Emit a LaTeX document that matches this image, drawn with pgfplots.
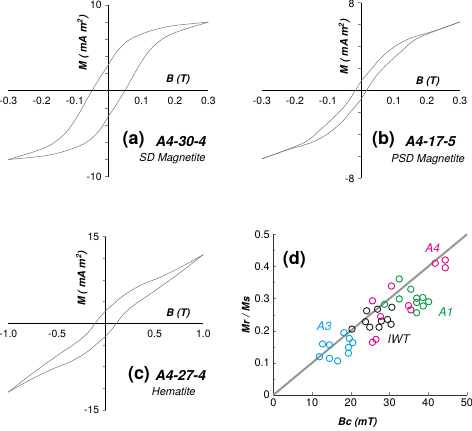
\documentclass[border=0pt]{standalone}
\usepackage{pgfplots}
\pgfplotsset{compat=1.18}
\usepackage{fontspec}
\setmainfont{TeX Gyre Heros}
\definecolor{cyanA}{RGB}{0,160,228}
\definecolor{pinkA}{RGB}{230,0,126}
\definecolor{greenA}{RGB}{0,150,60}
\definecolor{blackA}{RGB}{30,30,30}
\definecolor{lineG}{RGB}{150,150,150}
\begin{document}
\begin{tikzpicture}
\useasboundingbox (0,0) rectangle (472bp,431bp);
\pgfplotsset{
  loop/.style={scale only axis, anchor=south west, axis lines=middle,
    axis line style={-, line width=0.7pt, black}, enlargelimits=false, clip=false,
    tick label style={font=\fontsize{10.5}{12}\selectfont},
    xtick style={draw=none}, tick align=outside, major tick length=3bp,
    ytick style={line width=0.5pt},
    /pgf/number format/assume math mode=true},
  curve/.style={color=black!55, line width=0.5pt, smooth, tension=0.55, no marks}
}
% ---------------- panel a
\begin{axis}[loop, at={(8.3bp,254.3bp)}, width=200bp, height=171.7bp,
  xmin=-0.3, xmax=0.3, ymin=-10, ymax=10,
  xtick={-0.3,-0.2,-0.1,0.1,0.2,0.3}, xticklabels={-0.3,-0.2,-0.1,0.1,0.2,0.3},
  ytick={-10,-8,-6,-4,-2,0,2,4,6,8,10}, yticklabels={-10,{},{},{},{},{},{},{},{},{},10}]
\addplot[curve] coordinates {(0.3,8.0) (0.195,7.59) (0.135,7.08) (0.085,6.38) (0.055,5.72) (0.025,4.55) (0,3.0) (-0.025,1.56) (-0.045,0.27) (-0.06,-0.70) (-0.085,-2.45) (-0.11,-4.0) (-0.135,-5.18) (-0.175,-6.34) (-0.225,-7.12) (-0.3,-8.0)};
\addplot[curve] coordinates {(-0.3,-8.0) (-0.195,-7.59) (-0.135,-7.08) (-0.085,-6.38) (-0.055,-5.72) (-0.025,-4.55) (0,-3.0) (0.025,-1.56) (0.045,-0.27) (0.06,0.70) (0.085,2.45) (0.11,4.0) (0.135,5.18) (0.175,6.34) (0.225,7.12) (0.3,8.0)};
\end{axis}
% ---------------- panel b
\begin{axis}[loop, at={(262bp,253bp)}, width=198bp, height=175.3bp,
  xmin=-0.3, xmax=0.3, ymin=-8, ymax=8,
  xtick={-0.3,-0.2,-0.1,0.1,0.2,0.3}, xticklabels={-0.3,-0.2,-0.1,0.1,0.2,0.3},
  ytick={-8,-6,-4,-2,0,2,4,6,8}, yticklabels={-8,{},{},{},{},{},{},{},8},
  yticklabel style={yshift=-1.2bp}]
\addplot[curve] coordinates {(0.3,6.25) (0.23,5.5) (0.15,4.76) (0.1,3.95) (0.06,2.95) (0.038,2.18) (0.008,1.12) (0,0.82) (-0.017,0) (-0.042,-1.15) (-0.073,-2.2) (-0.123,-3.58) (-0.174,-4.79) (-0.3,-6.25)};
\addplot[curve] coordinates {(-0.3,-6.25) (-0.23,-5.5) (-0.15,-4.76) (-0.1,-3.95) (-0.06,-2.95) (-0.038,-2.18) (-0.008,-1.12) (0,-0.82) (0.017,0) (0.042,1.15) (0.073,2.2) (0.123,3.58) (0.174,4.79) (0.3,6.25)};
\end{axis}
% ---------------- panel c
\begin{axis}[loop, at={(8.3bp,21bp)}, width=195bp, height=173.3bp,
  xmin=-1, xmax=1, ymin=-15, ymax=15,
  xtick={-1,-0.5,0.5,1}, xticklabels={-1.0,-0.5,0.5,1.0},
  ytick={-15,-11.25,-7.5,-3.75,0,3.75,7.5,11.25,15}, yticklabels={-15,{},{},{},{},{},{},{},15}]
\addplot[curve] coordinates {(1.0,11.9) (0.8,10.0) (0.56,8.0) (0.35,6.54) (0.18,4.8) (0.08,3.36) (0,2.2) (-0.075,0.75) (-0.11,0) (-0.18,-1.56) (-0.3,-3.3) (-0.5,-5.6) (-0.74,-8.5) (-1.0,-11.9)};
\addplot[curve] coordinates {(-1.0,-11.9) (-0.8,-10.0) (-0.56,-8.0) (-0.35,-6.54) (-0.18,-4.8) (-0.08,-3.36) (0,-2.2) (0.075,-0.75) (0.11,0) (0.18,1.56) (0.3,3.3) (0.5,5.6) (0.74,8.5) (1.0,11.9)};
\end{axis}
% ---------------- panel d
\begin{axis}[scale only axis, anchor=south west, at={(273.3bp,36bp)}, width=193.7bp, height=160.7bp,
  xmin=0, xmax=50, ymin=0, ymax=0.5, axis lines=left, axis line style={-, line width=0.6pt, black!80},
  enlargelimits=false, clip=false, tick align=inside, major tick length=3bp, minor tick length=2bp,
  xtick={0,10,20,30,40,50}, ytick={0,0.1,0.2,0.3,0.4,0.5}, yticklabels={0,0.1,0.2,0.3,0.4,0.5},
  minor y tick num=1,
  tick label style={font=\fontsize{11}{13}\selectfont},
  /pgf/number format/assume math mode=true,
  every axis plot/.append style={only marks, mark=o, mark size=3.2bp, line width=0.9pt}]
\addplot[lineG, line width=2bp, no marks, sharp plot] coordinates {(0,0) (50,0.5)};
\addplot[blackA, mark options={fill=black!45}] coordinates {(20.3,0.205)};
\addplot[blackA] coordinates {(23.8,0.228) (24.1,0.262) (24.9,0.211) (26.9,0.267) (27.3,0.211) (27.9,0.230) (29.5,0.235) (30.4,0.220) (30.6,0.273)};
\addplot[cyanA] coordinates {(11.9,0.119) (12.7,0.159) (14.5,0.156) (14.5,0.114) (16.6,0.106) (18.2,0.194) (19.6,0.176) (20.5,0.163) (19.4,0.148) (19.4,0.130)};
\addplot[pinkA] coordinates {(25.6,0.293) (25.6,0.164) (26.5,0.173) (27.7,0.244) (30.5,0.339) (34.9,0.278) (35.5,0.265) (41.8,0.410) (44.4,0.420) (44.4,0.396)};
\addplot[greenA] coordinates {(28.7,0.282) (32.5,0.361) (32.5,0.299) (35.5,0.329) (37.0,0.301) (37.0,0.288) (37.0,0.256) (38.6,0.303) (38.7,0.277) (40.1,0.290)};
\end{axis}
% ---------------- annotations
\def\axlab{\fontsize{10.5}{12}\selectfont\bfseries\itshape}
\node[rotate=90, font=\axlab] at (83bp,388bp) {M ( mA m\textsuperscript{2})};
\node[font=\axlab] at (178bp,351bp) {B (T)};
\node[font=\fontsize{18}{20}\selectfont\bfseries] at (133.7bp,291bp) {(a)};
\node[font=\fontsize{14}{16}\selectfont\bfseries\itshape] at (181bp,290bp) {A4-30-4};
\node[font=\fontsize{11}{13}\selectfont\itshape] at (172.5bp,272bp) {SD Magnetite};

\node[rotate=90, font=\axlab] at (344.3bp,384.3bp) {M ( mA m\textsuperscript{2})};
\node[font=\axlab] at (427.7bp,349.3bp) {B (T)};
\node[font=\fontsize{18}{20}\selectfont\bfseries] at (383.5bp,291bp) {(b)};
\node[font=\fontsize{14}{16}\selectfont\bfseries\itshape] at (430.5bp,290bp) {A4-17-5};
\node[font=\fontsize{11}{13}\selectfont\itshape] at (428bp,271bp) {PSD Magnetite};

\node[rotate=90, font=\axlab] at (81.7bp,152.7bp) {M ( mA m\textsuperscript{2})};
\node[font=\axlab] at (178.3bp,117.7bp) {B (T)};
\node[font=\fontsize{18}{20}\selectfont\bfseries] at (139bp,56bp) {(c)};
\node[font=\fontsize{14}{16}\selectfont\bfseries\itshape] at (180.7bp,56bp) {A4-27-4};
\node[font=\fontsize{11}{13}\selectfont\itshape] at (173.7bp,39bp) {Hematite};

\node[font=\fontsize{18}{20}\selectfont\bfseries] at (294.3bp,171bp) {(d)};
\node[rotate=90, font=\axlab] at (246bp,116bp) {Mr / Ms};
\node[font=\axlab] at (357.7bp,8bp) {Bc (mT)};
\node[font=\fontsize{12}{14}\selectfont\itshape, text=pinkA] at (432.7bp,182.7bp) {A4};
\node[font=\fontsize{12}{14}\selectfont\itshape, text=greenA] at (446bp,119.3bp) {A1};
\node[font=\fontsize{12}{14}\selectfont\itshape, text=cyanA] at (324.3bp,105bp) {A3};
\node[font=\fontsize{12}{14}\selectfont\itshape, text=blackA] at (398.7bp,92bp) {IWT};
\end{tikzpicture}
\end{document}
